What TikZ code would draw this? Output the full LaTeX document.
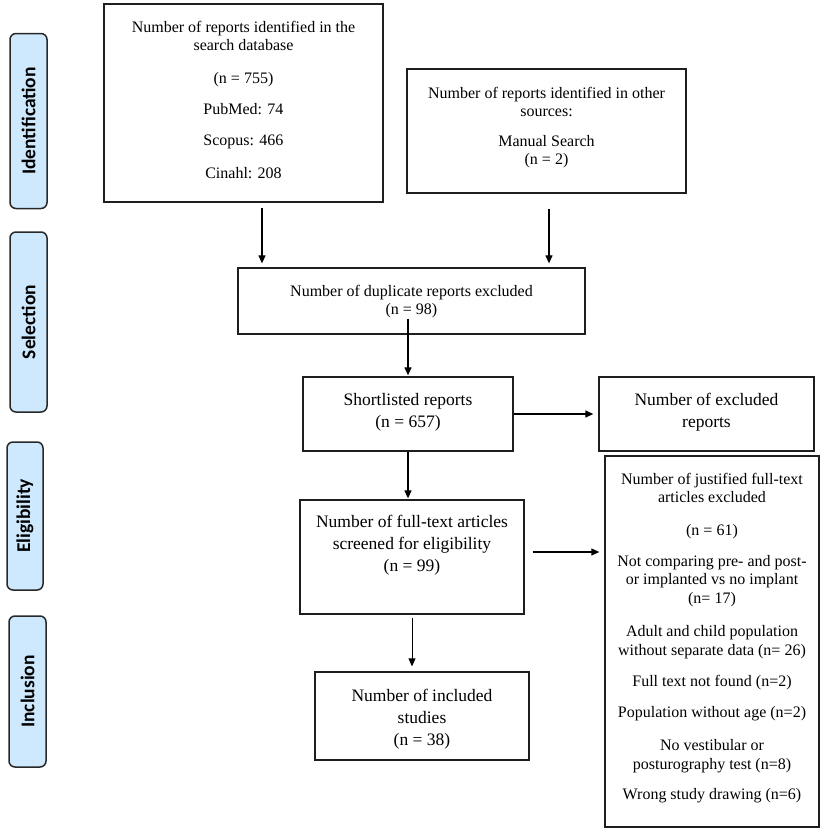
\documentclass[tikz,border=0pt]{standalone}
\usepackage{fontspec}
\setmainfont{Liberation Serif}
\newfontfamily\labelfont{Carlito}
\usetikzlibrary{arrows.meta}
\definecolor{phasefill}{RGB}{206,233,253}
\definecolor{phaseline}{RGB}{40,40,40}
\definecolor{boxline}{RGB}{30,30,30}
\begin{document}
\begin{tikzpicture}[x=1pt,y=-1pt,
  box/.style={draw=boxline, line width=1.3pt, inner sep=0pt, fill=none},
  txta/.style={font=\fontsize{16}{18.5}\selectfont, align=center, inner sep=0pt},
  txtb/.style={font=\fontsize{17.5}{22}\selectfont, align=center, inner sep=0pt},
  phase/.style={draw=phaseline, fill=phasefill, line width=1.5pt, rounded corners=6pt,
     rotate=90, inner sep=0pt, font=\labelfont\bfseries\fontsize{19.5}{22}\selectfont},
  arr/.style={-{Triangle[length=8pt,width=7pt]}, line width=1.2pt, draw=black},
  arrthin/.style={-{Triangle[length=8pt,width=7pt]}, line width=0.8pt, draw=black}
]
\useasboundingbox (0,0) rectangle (829,836);

% phase labels
\node[phase, minimum width=175pt, minimum height=37pt] (pid) at (28.5,121) {Identification};
\node[phase, minimum width=180pt, minimum height=37pt] (psel) at (28.5,322) {Selection};
\node[phase, minimum width=148pt, minimum height=36pt] (pel) at (25,516) {Eligibility};
\node[phase, minimum width=151pt, minimum height=37pt] (pin) at (27.5,691.5) {Inclusion};

% boxes
\node[box, minimum width=279pt, minimum height=198pt] (b1) at (243.5,103) {};
\node[box, minimum width=279pt, minimum height=124pt] (b2) at (546.5,131) {};
\node[box, minimum width=347pt, minimum height=66pt] (b3) at (411.5,301) {};
\node[box, minimum width=210pt, minimum height=74pt] (b4) at (408,414) {};
\node[box, minimum width=215pt, minimum height=74pt] (b5) at (706.5,414) {};
\node[box, minimum width=224pt, minimum height=114pt] (b6) at (412,557) {};
\node[box, minimum width=214pt, minimum height=371pt] (b7) at (712,641.5) {};
\node[box, minimum width=214pt, minimum height=88pt] (b8) at (422,716) {};

% texts
\node[txta] (t1a) at (243.5,36) {Number of reports identified in the\\search database};
\node[txta] (t1b) at (243.5,80) {(n = 755)};
\node[txta] (t1c) at (243.5,109) {PubMed: 74};
\node[txta] (t1d) at (243.5,142) {Scopus: 466};
\node[txta] (t1e) at (243.5,173) {Cinahl: 208};

\node[txta] (t2a) at (546.5,102) {Number of reports identified in other\\sources:};
\node[txta] (t2b) at (546.5,151.5) {Manual Search\\(n = 2)};

\node[txta] (t3) at (411.5,301.5) {Number of duplicate reports excluded\\(n = 98)};

\node[txtb] (t4) at (408,412.5) {Shortlisted reports\\(n = 657)};
\node[txtb] (t5) at (706.5,412.5) {Number of excluded\\reports};
\node[txtb] (t6) at (412,545.5) {Number of full-text articles\\screened for eligibility\\(n = 99)};
\node[txtb] (t8) at (422,719) {Number of included\\studies\\(n = 38)};

\node[txta] (t7a) at (712,488) {Number of justified full-text\\articles excluded};
\node[txta] (t7b) at (712,532) {(n = 61)};
\node[txta] (t7c) at (712,581) {Not comparing pre- and post-\\or implanted vs no implant\\(n= 17)};
\node[txta] (t7d) at (712,642) {Adult and child population\\without separate data (n= 26)};
\node[txta] (t7e) at (712,683) {Full text not found (n=2)};
\node[txta] (t7f) at (712,714) {Population without age (n=2)};
\node[txta] (t7g) at (712,756) {No vestibular or\\posturography test (n=8)};
\node[txta] (t7h) at (712,796) {Wrong study drawing (n=6)};

% connectors
\draw[arr, shorten <=5pt, shorten >=4pt] ([xshift=18.5pt]b1.south) -- ([xshift=18.5pt]b1.south |- b3.north);
\draw[arr, shorten <=15pt, shorten >=4pt] ([xshift=2.5pt]b2.south) -- ([xshift=2.5pt]b2.south |- b3.north);
\draw[arr, shorten >=1pt] ([yshift=16pt]b4.north |- b3.south) -- (b4.north);
\draw[arr, shorten >=5pt] (b4.east) -- (b5.west);
\draw[arr, shorten >=1pt] (b4.south) -- (b4.south |- b6.north);
\draw[arr, shorten <=8pt, shorten >=5pt] ([yshift=5pt]b6.east) -- ([yshift=5pt]b6.east -| b7.west);
\draw[arrthin, shorten <=3pt, shorten >=5pt] (b6.south) -- (b6.south |- b8.north);
\end{tikzpicture}
\end{document}
